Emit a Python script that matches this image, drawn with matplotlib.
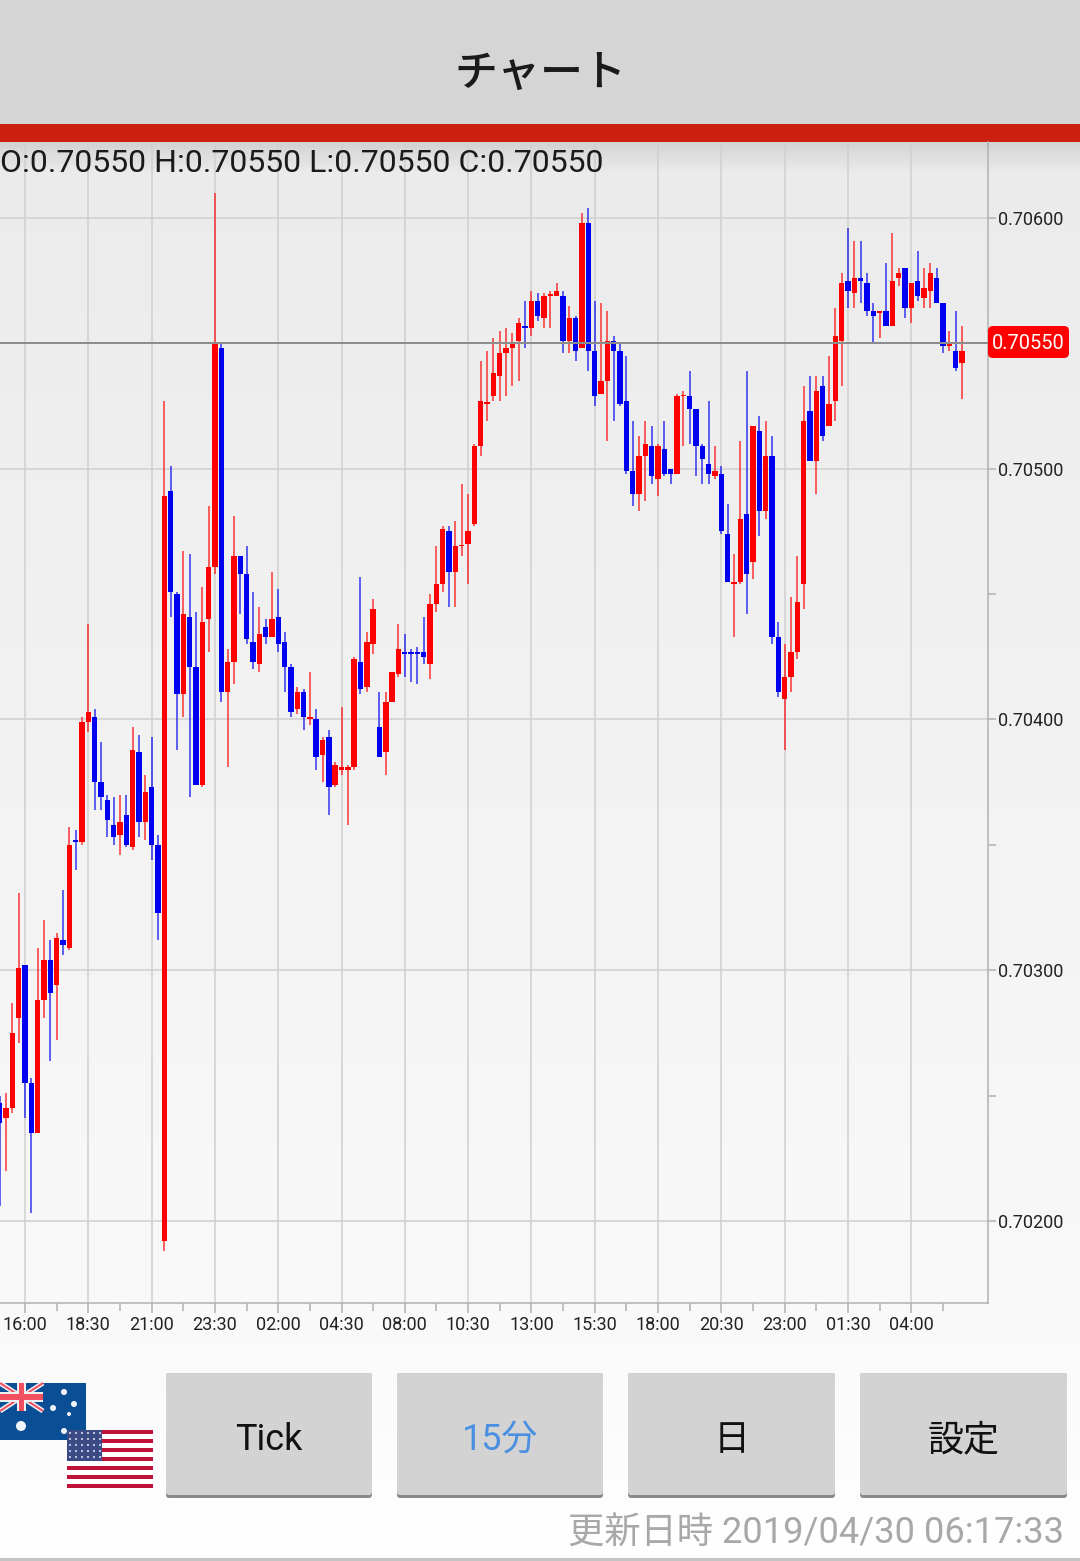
#!/usr/bin/env python3
import numpy as np
import matplotlib
matplotlib.use("Agg")
import matplotlib.pyplot as plt
from matplotlib.patches import Rectangle, FancyBboxPatch, Circle
from matplotlib.ticker import FixedLocator

plt.rcParams['font.family'] = ['Roboto', 'Noto Sans CJK JP', 'DejaVu Sans']

W, H = 1080, 1561
PX = 0.72  # px -> pt a 100 dpi

# precios en unidades de 0.00001, una vela cada 15 minutos
opens = [70247, 70241, 70245, 70281, 70302, 70255, 70235, 70288, 70304, 70294, 70312, 70309, 70352, 70351, 70399, 70401,
         70375, 70368, 70358, 70354, 70362, 70349, 70387, 70359, 70373, 70350, 70192, 70491, 70450, 70410, 70441, 70421,
         70374, 70440, 70461, 70548, 70411, 70423, 70465, 70458, 70431, 70422, 70437, 70433, 70441, 70431, 70421, 70404,
         70411, 70400, 70400, 70386, 70393, 70374, 70380, 70380, 70381, 70423, 70413, 70430, 70397, 70387, 70407, 70418,
         70427, 70427, 70427, 70427, 70422, 70446, 70454, 70475, 70459, 70469, 70470, 70478, 70509, 70526, 70529, 70537,
         70546, 70548, 70551, 70557, 70556, 70567, 70560, 70569, 70569, 70569, 70551, 70560, 70548, 70598, 70547, 70530,
         70535, 70551, 70547, 70527, 70499, 70490, 70505, 70509, 70496, 70508, 70500, 70498, 70529, 70529, 70524, 70509,
         70502, 70497, 70498, 70474, 70454, 70455, 70482, 70463, 70515, 70483, 70505, 70433, 70408, 70417, 70427, 70454,
         70523, 70503, 70533, 70517, 70527, 70551, 70575, 70570, 70576, 70574, 70563, 70562, 70563, 70557, 70576, 70580,
         70564, 70575, 70568, 70571, 70576, 70566, 70549, 70547, 70542]
highs = [70250, 70251, 70287, 70331, 70302, 70257, 70309, 70320, 70312, 70315, 70332, 70357, 70356, 70401, 70438, 70404,
         70391, 70370, 70369, 70370, 70370, 70397, 70394, 70378, 70393, 70354, 70527, 70501, 70451, 70467, 70466, 70443,
         70453, 70485, 70610, 70550, 70428, 70481, 70465, 70469, 70451, 70445, 70440, 70459, 70452, 70435, 70422, 70413,
         70412, 70419, 70404, 70393, 70396, 70383, 70405, 70382, 70425, 70457, 70435, 70448, 70411, 70411, 70419, 70438,
         70434, 70428, 70429, 70441, 70450, 70469, 70477, 70477, 70479, 70494, 70490, 70510, 70543, 70547, 70552, 70555,
         70556, 70554, 70560, 70567, 70571, 70570, 70570, 70571, 70574, 70571, 70565, 70561, 70602, 70604, 70567, 70566,
         70563, 70553, 70550, 70545, 70519, 70513, 70519, 70517, 70510, 70519, 70500, 70530, 70531, 70539, 70524, 70510,
         70527, 70509, 70501, 70486, 70466, 70511, 70539, 70517, 70521, 70519, 70513, 70439, 70430, 70449, 70465, 70533,
         70537, 70537, 70537, 70545, 70564, 70578, 70596, 70591, 70591, 70578, 70566, 70563, 70582, 70594, 70580, 70580,
         70574, 70587, 70580, 70582, 70580, 70566, 70555, 70563, 70557]
lows = [70206, 70220, 70243, 70271, 70241, 70203, 70235, 70281, 70264, 70272, 70306, 70308, 70340, 70350, 70395, 70364,
        70364, 70353, 70350, 70346, 70349, 70348, 70353, 70352, 70344, 70312, 70188, 70441, 70388, 70401, 70369, 70374,
        70373, 70427, 70458, 70407, 70381, 70414, 70442, 70430, 70420, 70419, 70430, 70433, 70427, 70411, 70401, 70402,
        70396, 70398, 70380, 70375, 70362, 70373, 70378, 70358, 70380, 70410, 70411, 70426, 70385, 70378, 70407, 70417,
        70417, 70415, 70414, 70422, 70416, 70443, 70451, 70445, 70445, 70465, 70454, 70477, 70505, 70519, 70527, 70527,
        70529, 70533, 70535, 70548, 70553, 70559, 70556, 70556, 70569, 70546, 70546, 70543, 70548, 70539, 70525, 70530,
        70511, 70519, 70525, 70498, 70485, 70483, 70487, 70494, 70489, 70497, 70494, 70498, 70509, 70510, 70497, 70494,
        70494, 70496, 70474, 70455, 70433, 70454, 70442, 70456, 70473, 70480, 70430, 70409, 70388, 70411, 70424, 70444,
        70503, 70490, 70511, 70517, 70519, 70533, 70564, 70564, 70566, 70561, 70550, 70552, 70557, 70557, 70573, 70560,
        70558, 70567, 70564, 70564, 70566, 70546, 70547, 70539, 70528]
closes = [70239, 70245, 70275, 70301, 70255, 70235, 70288, 70304, 70291, 70313, 70310, 70350, 70351, 70399, 70403, 70375,
          70369, 70360, 70353, 70359, 70350, 70388, 70359, 70371, 70350, 70323, 70489, 70451, 70410, 70442, 70421, 70374,
          70439, 70461, 70550, 70411, 70423, 70465, 70458, 70432, 70423, 70434, 70433, 70440, 70430, 70421, 70403, 70411,
          70401, 70401, 70385, 70392, 70373, 70382, 70381, 70381, 70424, 70412, 70431, 70444, 70385, 70407, 70419, 70428,
          70426, 70426, 70426, 70425, 70446, 70454, 70476, 70459, 70469, 70469, 70475, 70509, 70527, 70526, 70538, 70546,
          70548, 70550, 70558, 70556, 70567, 70561, 70569, 70569, 70571, 70551, 70560, 70547, 70598, 70547, 70529, 70535,
          70551, 70547, 70526, 70499, 70490, 70505, 70510, 70497, 70509, 70498, 70498, 70529, 70529, 70524, 70509, 70504,
          70498, 70499, 70475, 70455, 70455, 70480, 70458, 70517, 70483, 70505, 70433, 70411, 70417, 70427, 70447, 70519,
          70503, 70531, 70513, 70526, 70553, 70574, 70571, 70576, 70575, 70563, 70561, 70563, 70557, 70575, 70578, 70564,
          70574, 70569, 70572, 70578, 70566, 70549, 70550, 70540, 70547]

first_bar = -4
last_price = 70550
y_major = [70200, 70300, 70400, 70500, 70600]
y_minor = [70250, 70350, 70450, 70550]
x_major = list(range(0, 150, 10))
x_minor = list(range(5, 150, 10))
x_labels = ["16:00", "18:30", "21:00", "23:30", "02:00", "04:30", "08:00", "10:30",
            "13:00", "15:30", "18:00", "20:30", "23:00", "01:30", "04:00"]
header_text = "O:0.70550 H:0.70550 L:0.70550 C:0.70550"
button_labels = ["Tick", "15分", "日", "設定"]
updated_text = "更新日時 2019/04/30 06:17:33"

RED = "#ff0000"
BLUE = "#0000f0"

fig = plt.figure(figsize=(W / 100, H / 100), dpi=100)

# capa de fondo en coordenadas de pixel
bg = fig.add_axes([0, 0, 1, 1], zorder=0)
grad_y = np.arange(142, 1561)
grad = np.interp(grad_y, [142, 1303, 1561], [0xEA, 0xF8, 0xFE]).reshape(-1, 1)
bg.imshow(grad, extent=[0, W, 1561, 142], cmap="gray", vmin=0, vmax=255, aspect="auto", origin="upper", zorder=0)
shadow = np.zeros((32, 1, 4))
shadow[:, 0, 3] = np.linspace(0.10, 0, 32)
bg.imshow(shadow, extent=[0, W, 174, 142], aspect="auto", origin="upper", zorder=1)
bg.set_xlim(0, W)
bg.set_ylim(H, 0)
bg.axis("off")
bg.add_patch(Rectangle((0, 0), W, 124, color="#d5d5d5", lw=0, zorder=1))
bg.add_patch(Rectangle((0, 124), W, 18, color="#cc1f10", lw=0, zorder=2))
bg.text(540, 73, "チャート", fontsize=43 * PX, ha="center", va="center", color="#1a1a1a",
        family=['Noto Sans CJK JP'], fontweight="medium")

# botones
btn_x = [166, 397, 628, 860]
btn_w = [206, 206, 207, 207]
btn_color = ["#111111", "#4a90e2", "#111111", "#111111"]
for bx, bw, label, col in zip(btn_x, btn_w, button_labels, btn_color):
    bg.add_patch(FancyBboxPatch((bx, 1373), bw, 125, boxstyle="round,pad=0,rounding_size=3",
                                fc="#8a8a8a", ec="none", zorder=2))
    bg.add_patch(FancyBboxPatch((bx, 1373), bw, 122, boxstyle="round,pad=0,rounding_size=3",
                                fc="#d3d3d3", ec="none", zorder=3))
    bg.text(bx + bw / 2, 1440, label, fontsize=36 * PX, ha="center", va="center", color=col, zorder=4)

bg.text(1064, 1533, updated_text, fontsize=36.3 * PX, ha="right", va="center", color="#a8a8a8", zorder=4)
bg.add_patch(Rectangle((0, 1558), W, 3, color="#c4c4c4", lw=0, zorder=4))

# bandera de Australia
bg.add_patch(Rectangle((0, 1383), 86, 57, color="#0a4f96", lw=0, zorder=5))
for a, b in [((0, 1383), (43, 1411)), ((0, 1411), (43, 1383))]:
    bg.plot([a[0], b[0]], [a[1], b[1]], color="#f0f0f0", lw=5 * PX, zorder=6, solid_capstyle="butt")
    bg.plot([a[0], b[0]], [a[1], b[1]], color="#f05060", lw=2 * PX, zorder=6, solid_capstyle="butt")
bg.add_patch(Rectangle((0, 1392), 43, 10, color="#f0f0f0", lw=0, zorder=7))
bg.add_patch(Rectangle((17, 1383), 9, 28, color="#f0f0f0", lw=0, zorder=7))
bg.add_patch(Rectangle((0, 1394), 43, 6, color="#f05060", lw=0, zorder=8))
bg.add_patch(Rectangle((19, 1383), 5, 28, color="#f05060", lw=0, zorder=8))
for sx, sy, sr in [(21, 1426, 5), (64, 1392, 3), (74, 1404, 3), (53, 1408, 3), (69, 1414, 2), (64, 1431, 3)]:
    bg.add_patch(Circle((sx, sy), sr, color="#f2f5fa", lw=0, zorder=7))

# bandera de EEUU
bg.add_patch(Rectangle((67, 1430), 86, 58, color="#ffffff", lw=0, zorder=9))
for k in range(7):
    bg.add_patch(Rectangle((67, 1430 + k * 58 / 6.5), 86, 58 / 13, color="#bf1238", lw=0, zorder=10))
bg.add_patch(Rectangle((67, 1430), 35, 31, color="#3a4a85", lw=0, zorder=11))
for row in range(5):
    for col in range(6):
        bg.add_patch(Circle((70 + col * 6, 1433 + row * 6), 1.1, color="#c8cfe4", lw=0, zorder=12))

# velas
ax = fig.add_axes([0, 1 - 1303 / H, 988 / W, (1303 - 142) / H], zorder=1)
ax.patch.set_alpha(0)
bars = np.arange(first_bar, first_bar + len(opens))
o = np.array(opens) / 1e5
h = np.array(highs) / 1e5
l = np.array(lows) / 1e5
c = np.array(closes) / 1e5
up = c >= o
colors = np.where(up, RED, BLUE)
ax.vlines(bars, l, h, colors=colors, lw=2 * PX, alpha=0.6, zorder=3)
ax.bar(bars, np.maximum(np.abs(c - o), 0.000006), bottom=np.minimum(o, c), width=0.85, color=colors, lw=0, zorder=4)

ax.axhline(last_price / 1e5, color="#8c8c8c", lw=2 * PX, zorder=5)

ax.set_xlim(-3.95, 152.13)
ax.set_ylim(0.701673, 0.706303)
ax.spines["top"].set_visible(False)
ax.spines["left"].set_visible(False)
for s in ("right", "bottom"):
    ax.spines[s].set_color("#b0b0b0")
    ax.spines[s].set_linewidth(1.5 * PX)

ax.xaxis.set_major_locator(FixedLocator(x_major))
ax.xaxis.set_minor_locator(FixedLocator(x_minor))
ax.set_xticklabels(x_labels)
ax.yaxis.tick_right()
ax.yaxis.set_major_locator(FixedLocator([v / 1e5 for v in y_major]))
ax.yaxis.set_minor_locator(FixedLocator([v / 1e5 for v in y_minor]))
ax.set_yticklabels([f"{v / 1e5:.5f}" for v in y_major])
ax.tick_params(axis="both", which="major", labelsize=18 * PX, labelcolor="#222222", color="#b0b0b0", width=1.5 * PX)
ax.tick_params(axis="x", which="major", length=10 * PX, pad=2.4)
ax.tick_params(axis="y", which="major", length=8 * PX, pad=1.2)
ax.tick_params(axis="both", which="minor", color="#b0b0b0", width=1.5 * PX, length=8 * PX)
ax.grid(True, which="major", color="#cfcfcf", lw=1.5 * PX, zorder=1)
ax.set_axisbelow(True)

ax.text(0, 0.994, header_text, transform=ax.transAxes, fontsize=32 * PX, ha="left", va="top", color="#1a1a1a", zorder=6)

# etiqueta del ultimo precio
ov = fig.add_axes([0, 0, 1, 1], zorder=2)
ov.set_xlim(0, W)
ov.set_ylim(H, 0)
ov.axis("off")
ov.add_patch(FancyBboxPatch((988, 326), 81, 32, boxstyle="round,pad=0,rounding_size=5", fc=RED, ec="none"))
ov.text(1028.5, 343, f"{last_price / 1e5:.5f}", color="white", fontsize=20 * PX, ha="center", va="center")

fig.savefig("out.png", dpi=100)
